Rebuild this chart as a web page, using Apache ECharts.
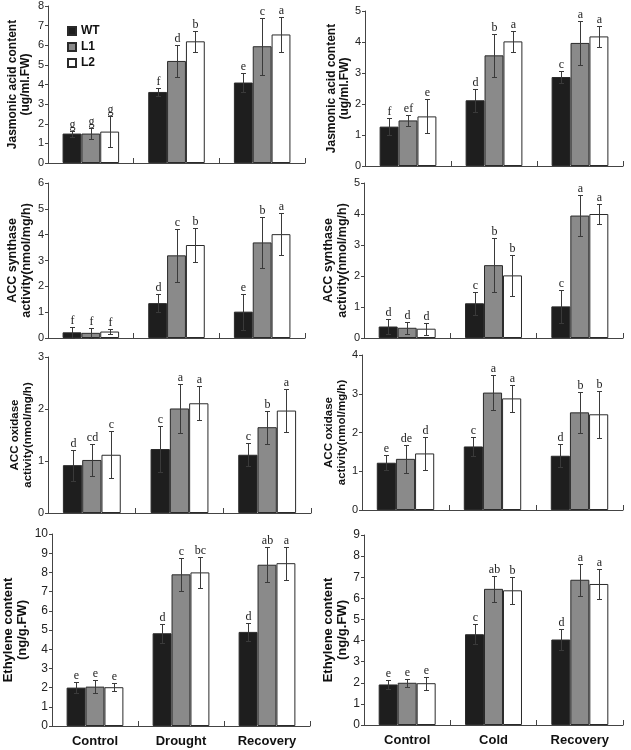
<!DOCTYPE html>
<html><head><meta charset="utf-8">
<script src="https://cdn.jsdelivr.net/npm/echarts@6/dist/echarts.min.js"></script>
<style>html,body{margin:0;padding:0;background:#fff}#c{width:631px;height:750px}</style>
</head><body><div id="c"></div>
<script>
// ---------- data ----------
const lineNames = ['WT', 'L1', 'L2'];
const droughtCategories = ['Control', 'Drought', 'Recovery'];
const coldCategories = ['Control', 'Cold', 'Recovery'];

// rows: WT, L1, L2 ; columns: categories
const jaDroughtMean = [[1.5, 3.62, 4.1], [1.5, 5.2, 5.95], [1.6, 6.2, 6.55]];
const jaDroughtErr = [[0.15, 0.22, 0.5], [0.3, 0.8, 1.45], [0.78, 0.55, 0.9]];
const jaDroughtLetters = [['g', 'f', 'e'], ['g', 'd', 'c'], ['g', 'b', 'a']];

const jaColdMean = [[1.27, 2.12, 2.87], [1.47, 3.57, 3.97], [1.6, 4.02, 4.18]];
const jaColdErr = [[0.27, 0.37, 0.2], [0.17, 0.7, 0.72], [0.55, 0.33, 0.35]];
const jaColdLetters = [['f', 'd', 'c'], ['ef', 'b', 'a'], ['e', 'a', 'a']];

const acsDroughtMean = [[0.22, 1.35, 1.02], [0.2, 3.2, 3.7], [0.25, 3.6, 4.02]];
const acsDroughtErr = [[0.22, 0.35, 0.7], [0.2, 1.03, 1.0], [0.1, 0.65, 0.8]];
const acsDroughtLetters = [['f', 'd', 'e'], ['f', 'c', 'b'], ['f', 'b', 'a']];

const acsColdMean = [[0.37, 1.12, 1.02], [0.33, 2.35, 3.95], [0.3, 2.02, 4.0]];
const acsColdErr = [[0.23, 0.37, 0.52], [0.2, 0.87, 0.66], [0.2, 0.67, 0.33]];
const acsColdLetters = [['d', 'c', 'c'], ['d', 'b', 'a'], ['d', 'b', 'a']];

const acoDroughtMean = [[0.92, 1.23, 1.12], [1.02, 2.01, 1.65], [1.12, 2.11, 1.97]];
const acoDroughtErr = [[0.3, 0.45, 0.22], [0.3, 0.47, 0.32], [0.45, 0.33, 0.42]];
const acoDroughtLetters = [['d', 'c', 'c'], ['cd', 'a', 'b'], ['c', 'a', 'a']];

const acoColdMean = [[1.22, 1.64, 1.4], [1.32, 3.03, 2.52], [1.46, 2.88, 2.47]];
const acoColdErr = [[0.2, 0.24, 0.3], [0.37, 0.46, 0.52], [0.42, 0.34, 0.6]];
const acoColdLetters = [['e', 'c', 'd'], ['de', 'a', 'b'], ['d', 'a', 'b']];

const ethDroughtMean = [[2.0, 4.83, 4.9], [2.05, 7.9, 8.4], [2.02, 8.0, 8.48]];
const ethDroughtErr = [[0.3, 0.5, 0.47], [0.32, 0.87, 0.92], [0.22, 0.8, 0.85]];
const ethDroughtLetters = [['e', 'd', 'd'], ['e', 'c', 'ab'], ['e', 'bc', 'a']];

const ethColdMean = [[1.92, 4.3, 4.05], [2.0, 6.45, 6.88], [1.98, 6.38, 6.68]];
const ethColdErr = [[0.2, 0.48, 0.52], [0.18, 0.63, 0.77], [0.3, 0.63, 0.73]];
const ethColdLetters = [['e', 'c', 'd'], ['e', 'ab', 'a'], ['e', 'b', 'a']];

const axisMaxima = [8, 5, 6, 5, 3, 4, 10, 9];
const axisNames = [
  'Jasmonic acid content\n(ug/ml.FW)', 'Jasmonic acid content\n(ug/ml.FW)',
  'ACC synthase\nactivity(nmol/mg/h)', 'ACC synthase\nactivity(nmol/mg/h)',
  'ACC oxidase\nactivity(nmol/mg/h)', 'ACC oxidase\nactivity(nmol/mg/h)',
  'Ethylene content\n(ng/g.FW)', 'Ethylene content\n(ng/g.FW)'
];

// ---------- layout / style ----------
const SANS = '"Liberation Sans", Arial, sans-serif';
const SERIF = '"Liberation Serif", "Times New Roman", serif';
const GAP = 0.34;
const fills = ['#1e1e1e', '#8a8a8a', '#ffffff'];

const panels = [
  {mean: jaDroughtMean, err: jaDroughtErr, letters: jaDroughtLetters, cats: droughtCategories},
  {mean: jaColdMean, err: jaColdErr, letters: jaColdLetters, cats: coldCategories},
  {mean: acsDroughtMean, err: acsDroughtErr, letters: acsDroughtLetters, cats: droughtCategories},
  {mean: acsColdMean, err: acsColdErr, letters: acsColdLetters, cats: coldCategories},
  {mean: acoDroughtMean, err: acoDroughtErr, letters: acoDroughtLetters, cats: droughtCategories},
  {mean: acoColdMean, err: acoColdErr, letters: acoColdLetters, cats: coldCategories},
  {mean: ethDroughtMean, err: ethDroughtErr, letters: ethDroughtLetters, cats: droughtCategories},
  {mean: ethColdMean, err: ethColdErr, letters: ethColdLetters, cats: coldCategories}
];
const layouts = [
  {left: 48, top: 6, width: 257, height: 157, nameGap: 16, nameSize: 12, labelSize: 11},
  {left: 365, top: 11, width: 258, height: 155, nameGap: 7, nameSize: 12, labelSize: 11},
  {left: 48, top: 183, width: 257, height: 155, nameGap: 14, nameSize: 12.5, labelSize: 11},
  {left: 364, top: 183, width: 259, height: 155, nameGap: 10, nameSize: 12.5, labelSize: 11},
  {left: 48, top: 357, width: 263, height: 156, nameGap: 13, nameSize: 11.5, labelSize: 11},
  {left: 362, top: 355, width: 261, height: 155, nameGap: 11, nameSize: 11.5, labelSize: 11},
  {left: 49, top: 534, width: 261, height: 192, nameGap: 23, nameSize: 13, labelSize: 12, showCats: true},
  {left: 364, top: 535, width: 259, height: 190, nameGap: 13, nameSize: 13, labelSize: 12, showCats: true}
];

const grid = [], xAxis = [], yAxis = [], series = [];
panels.forEach((p, i) => {
  const L = layouts[i];
  grid.push({left: L.left, top: L.top, width: L.width, height: L.height, containLabel: false});
  xAxis.push({
    type: 'category', gridIndex: i, data: p.cats,
    axisLine: {lineStyle: {color: '#444', width: 1}},
    axisTick: {show: true, inside: true, length: 5, lineStyle: {color: '#444'}},
    axisLabel: {show: !!L.showCats, fontFamily: SANS, fontWeight: 'bold', fontSize: 13, color: '#111', margin: 9},
    splitLine: {show: false}
  });
  yAxis.push({
    type: 'value', gridIndex: i, min: 0, max: axisMaxima[i], interval: 1,
    name: axisNames[i], nameLocation: 'middle', nameGap: L.nameGap,
    nameTextStyle: {fontFamily: SANS, fontWeight: 'bold', fontSize: L.nameSize, color: '#111', lineHeight: Math.round(L.nameSize * 1.1)},
    axisLine: {show: true, lineStyle: {color: '#444', width: 1}},
    axisTick: {show: true, inside: false, length: 3, lineStyle: {color: '#444'}},
    axisLabel: {fontFamily: SANS, fontSize: L.labelSize, color: '#222', margin: 4},
    splitLine: {show: false}
  });
  lineNames.forEach((nm, k) => {
    series.push({
      type: 'bar', name: nm, xAxisIndex: i, yAxisIndex: i,
      data: p.mean[k], barGap: '0%', barCategoryGap: (GAP * 100) + '%',
      itemStyle: {color: fills[k], borderColor: '#2a2a2a', borderWidth: 1},
      emphasis: {disabled: true}, silent: true, animation: false
    });
  });
  const errData = [];
  for (let k = 0; k < 3; k++) for (let c = 0; c < 3; c++) errData.push([c, k, p.mean[k][c], p.err[k][c]]);
  series.push({
    type: 'custom', xAxisIndex: i, yAxisIndex: i, z: 5, silent: true, animation: false,
    encode: {x: 0, y: 2},
    data: errData,
    renderItem: function (params, api) {
      const c = api.value(0), k = api.value(1), m = api.value(2), e = api.value(3);
      const band = api.size([1, 0])[0];
      const bw = band * (1 - GAP) / 3;
      const cx = Math.round(api.coord([c, 0])[0] + (k - 1) * bw) + 0.5;
      const yt = Math.round(api.coord([c, m + e])[1]) + 0.5;
      const yb = Math.round(api.coord([c, Math.max(m - e, 0)])[1]) + 0.5;
      const cap = 2.5;
      const st = {stroke: '#3a3a3a', lineWidth: 1};
      return {
        type: 'group',
        children: [
          {type: 'line', shape: {x1: cx, y1: yt, x2: cx, y2: yb}, style: st},
          {type: 'line', shape: {x1: cx - cap, y1: yt, x2: cx + cap, y2: yt}, style: st},
          {type: 'line', shape: {x1: cx - cap, y1: yb, x2: cx + cap, y2: yb}, style: st},
          {type: 'text', x: cx, y: yt - 1, style: {text: p.letters[k][c], fontFamily: SERIF, fontSize: 12, fill: '#222', align: 'center', verticalAlign: 'bottom'}}
        ]
      };
    }
  });
});

const chart = echarts.init(document.getElementById('c'));
chart.setOption({
  animation: false,
  backgroundColor: '#fff',
  legend: {
    data: lineNames, orient: 'vertical', left: 62, top: 20,
    itemWidth: 8, itemHeight: 8, itemGap: 4, icon: 'rect',
    textStyle: {fontFamily: SANS, fontWeight: 'bold', fontSize: 12, color: '#111', lineHeight: 12},
    selectedMode: false
  },
  grid, xAxis, yAxis, series
});
</script>
</body></html>
